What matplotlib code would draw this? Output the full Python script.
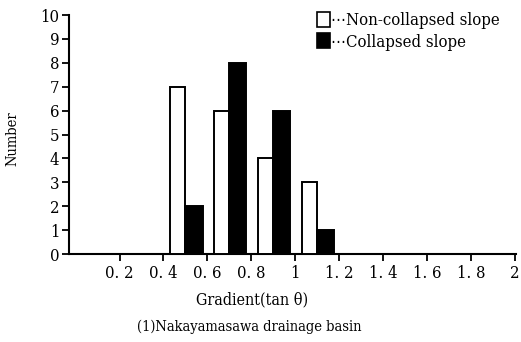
import matplotlib
matplotlib.use("Agg")
import matplotlib.pyplot as plt
from matplotlib.patches import Patch
from matplotlib import font_manager

# Data
bin_centers = [0.5, 0.7, 0.9, 1.1]
non_collapsed = [7, 6, 4, 3]
collapsed = [2, 8, 6, 1]
x_ticks = [0.2, 0.4, 0.6, 0.8, 1.0, 1.2, 1.4, 1.6, 1.8, 2.0]
x_tick_labels = ["0. 2", "0. 4", "0. 6", "0. 8", "1", "1. 2", "1. 4", "1. 6", "1. 8", "2"]
y_ticks = list(range(0, 11))

cond = [f for f in font_manager.fontManager.ttflist
        if f.name.startswith("DejaVu Serif") and "ondensed" in (f.fname + str(f.stretch))]
FAM = cond[0].name if cond else "DejaVu Serif"
plt.rcParams['font.family'] = [FAM, "DejaVu Serif", "DejaVu Sans"]
plt.rcParams['font.stretch'] = 'condensed'

fig = plt.figure(figsize=(5.21, 3.42), dpi=100)
ax = fig.add_axes([0.1325, 0.257, 0.8575, 0.699])

w_nc = 0.068
w_c = 0.078
ax.bar([c - w_nc for c in bin_centers], non_collapsed, width=w_nc, align='edge',
       facecolor='white', edgecolor='black', linewidth=1.4, zorder=3)
ax.bar(bin_centers, collapsed, width=w_c, align='edge',
       facecolor='black', edgecolor='black', linewidth=1.4, zorder=3)

ax.set_xlim(-0.03, 2.005)
ax.set_ylim(0, 10)
ax.spines['top'].set_visible(False)
ax.spines['right'].set_visible(False)
ax.spines['left'].set_linewidth(1.5)
ax.spines['bottom'].set_linewidth(1.5)
ax.set_xticks(x_ticks)
ax.set_xticklabels(x_tick_labels)
ax.set_yticks(y_ticks)
ax.tick_params(axis='both', direction='out', length=5, width=1.3, labelsize=12, colors='black')
ax.tick_params(axis='x', pad=3)
ax.tick_params(axis='y', pad=2)

ax.set_ylabel("Number", fontsize=10.5, va='center')
ax.yaxis.set_label_coords(-0.126, 0.483)
ax.set_xlabel("Gradient(tan θ)", fontsize=11.5, va='center')
ax.xaxis.set_label_coords(0.409, -0.192)

fig.text(0.478, 1 - 326.7 / 342, "(1)Nakayamasawa drainage basin", ha='center', va='center', fontsize=10.5)

handles = [Patch(facecolor='white', edgecolor='black', linewidth=1.2),
           Patch(facecolor='black', edgecolor='black', linewidth=1.2)]
leg = ax.legend(handles, ["⋯Non-collapsed slope", "⋯Collapsed slope"],
                loc='upper left', bbox_to_anchor=(0.54, 1.04), frameon=False,
                handlelength=0.8, handleheight=1.0, handletextpad=0.05,
                labelspacing=0.25, fontsize=12, borderaxespad=0)

fig.savefig("out.png", dpi=100)
